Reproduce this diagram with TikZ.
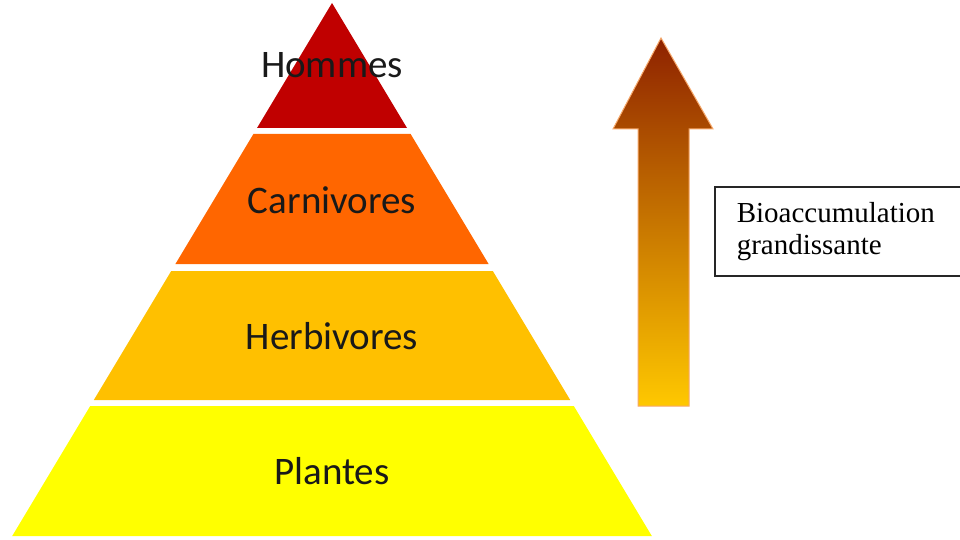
\documentclass[tikz,border=0pt]{standalone}
\usepackage{fontspec}
\setmainfont{Liberation Serif}
\newfontfamily\tierfont{Carlito}
\usetikzlibrary{positioning}

\definecolor{hommesred}{HTML}{C00000}
\definecolor{carnorange}{HTML}{FF6600}
\definecolor{herbgold}{HTML}{FFC000}
\definecolor{plantyellow}{HTML}{FFFF00}
\definecolor{arrowtop}{HTML}{8E2200}
\definecolor{arrowbottom}{HTML}{FFC800}
\definecolor{arrowedge}{HTML}{F6A86A}

\begin{document}
\begin{tikzpicture}[
    x=1pt, y=-1pt,
    tier/.style={font=\tierfont\fontsize{39}{41}\selectfont, text=black!90, inner sep=0pt},
    legend/.style={draw=black!85, line width=1.5pt, font=\fontsize{29}{32}\selectfont,
        align=left, text width=230pt, inner xsep=22pt, minimum height=89pt, anchor=north west},
    bigarrow/.style={top color=arrowtop, bottom color=arrowbottom, draw=arrowedge, line width=1pt}
]
\useasboundingbox (0,0) rectangle (960,540);

% --- Pyramid layers ---
\fill[hommesred] (332,3) -- (407,128) -- (257,128) -- cycle;
\fill[carnorange] (253.4,134) -- (410.6,134) -- (488.6,264) -- (175.4,264) -- cycle;
\fill[herbgold] (171.2,271) -- (492.8,271) -- (570.2,400) -- (93.8,400) -- cycle;
\fill[plantyellow] (90.2,406) -- (573.8,406) -- (651.8,536) -- (12.2,536) -- cycle;

% --- Layer labels ---
\node[tier] (hommes) at (332,65) {Hommes};
\node[tier] (carni) at (332,200) {Carnivores};
\node[tier] (herbi) at (332,336) {Herbivores};
\node[tier] (plantes) at (332,471) {Plantes};

% --- Arrow ---
\shade[bigarrow] (661,38) -- (713,129) -- (689,129) -- (689,406) -- (638,406)
    -- (638,129) -- (613,129) -- cycle;

% --- Legend box ---
\node[legend] (bioacc) at (714,186) {Bioaccumulation\\grandissante};

\end{tikzpicture}
\end{document}
